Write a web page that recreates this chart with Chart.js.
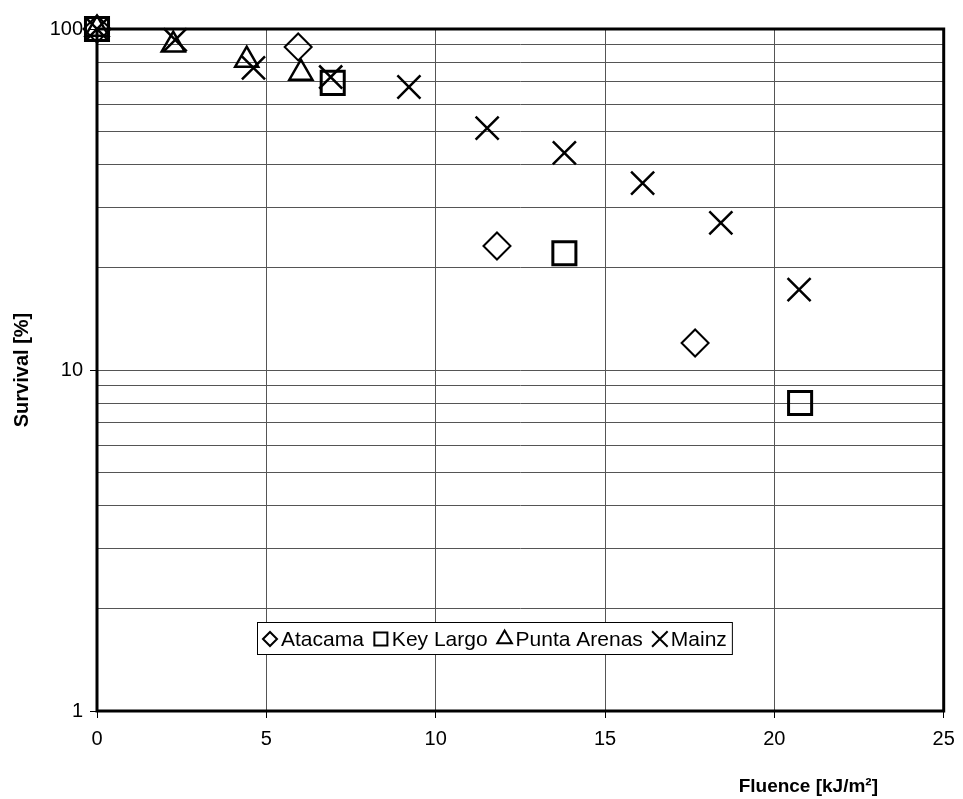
<!DOCTYPE html>
<html>
<head>
<meta charset="utf-8">
<script src="https://cdn.jsdelivr.net/npm/chart.js"></script>
<style>
  body { margin: 0; background: #fff; }
  #wrap { width: 963px; height: 799px; }
</style>
</head>
<body>
<div id="wrap"><canvas id="survivalChart" width="963" height="799"></canvas></div>
<script>
// Data (fluence in kJ/m², survival in %)
const ATACAMA_X = [0, 5.94, 11.81, 17.66];
const ATACAMA_Y = [100, 88.6, 23.1, 12.0];
const KEYLARGO_X = [0, 6.96, 13.8, 20.76];
const KEYLARGO_Y = [100, 69.5, 22.0, 8.0];
const PUNTA_X = [0, 2.25, 4.42, 6.02];
const PUNTA_Y = [100, 89.8, 81.1, 74.3];
const MAINZ_X = [0, 2.31, 4.62, 6.9, 9.21, 11.52, 13.8, 16.11, 18.42, 20.73];
const MAINZ_Y = [100, 92.9, 76.9, 72.3, 67.6, 51.2, 43.3, 35.3, 27.0, 17.2];

const Y_TICKS = [1, 2, 3, 4, 5, 6, 7, 8, 9, 10, 20, 30, 40, 50, 60, 70, 80, 90, 100];
const Y_LABELS = [1, 10, 100];
const X_TITLE = "Fluence [kJ/m²]";
const Y_TITLE = "Survival [%]";

const FONT = "'Liberation Sans', Arial, Helvetica, sans-serif";
Chart.defaults.font.family = FONT;
Chart.defaults.font.size = 20;
Chart.defaults.color = "#000";

function toPoints(xs, ys) {
  return xs.map((x, i) => ({ x: x, y: ys[i] }));
}

// marker look per series, also used for the legend
const SERIES = [
  { label: "Atacama", xs: ATACAMA_X, ys: ATACAMA_Y, style: "rectRot", radius: 13.5, width: 2, legendRadius: 7 },
  { label: "Key Largo", xs: KEYLARGO_X, ys: KEYLARGO_Y, style: "rect", radius: 16.3, width: 3, legendRadius: 9.2 },
  { label: "Punta Arenas", xs: PUNTA_X, ys: PUNTA_Y, style: "triangle", radius: 13.3, width: 2.5, legendRadius: 8.5 },
  { label: "Mainz", xs: MAINZ_X, ys: MAINZ_Y, style: "crossRot", radius: 16.3, width: 2.5, legendRadius: 11 },
];

// thick frame round the plot area
const framePlugin = {
  id: "frame",
  beforeDatasetsDraw(chart) {
    const { ctx, chartArea: a } = chart;
    ctx.save();
    ctx.strokeStyle = "#000";
    ctx.lineWidth = 3;
    ctx.strokeRect(a.left, a.top, a.right - a.left, a.bottom - a.top);
    ctx.restore();
  },
};

function drawMarker(ctx, style, r, lw, x, y) {
  const opts = { pointStyle: style, radius: r, borderWidth: lw, rotation: 0 };
  if (Chart.helpers && Chart.helpers.drawPoint) {
    ctx.strokeStyle = "#000";
    ctx.fillStyle = "rgba(0,0,0,0)";
    ctx.lineWidth = lw;
    Chart.helpers.drawPoint(ctx, opts, x, y);
    return;
  }
  ctx.beginPath();
  ctx.lineWidth = lw;
  ctx.strokeStyle = "#000";
  if (style === "rectRot") {
    ctx.moveTo(x - r, y); ctx.lineTo(x, y - r); ctx.lineTo(x + r, y); ctx.lineTo(x, y + r); ctx.closePath();
  } else if (style === "rect") {
    const s = r * Math.SQRT1_2;
    ctx.rect(x - s, y - s, 2 * s, 2 * s);
  } else if (style === "triangle") {
    ctx.moveTo(x, y - r);
    ctx.lineTo(x + r * Math.sin(2 * Math.PI / 3), y + r / 2);
    ctx.lineTo(x - r * Math.sin(2 * Math.PI / 3), y + r / 2);
    ctx.closePath();
  } else {
    const o = r * Math.SQRT1_2;
    ctx.moveTo(x - o, y - o); ctx.lineTo(x + o, y + o);
    ctx.moveTo(x + o, y - o); ctx.lineTo(x - o, y + o);
  }
  ctx.stroke();
}

// boxed legend inside the plot, plus the x title at lower right
const legendPlugin = {
  id: "boxLegend",
  afterDraw(chart) {
    const ctx = chart.ctx;
    const boxLeft = 257, boxTop = 622, boxH = 32;
    const midY = boxTop + boxH / 2;
    ctx.save();
    ctx.font = "21px " + FONT;
    // measure first
    let x = boxLeft + 13;
    const items = [];
    SERIES.forEach((s) => {
      const w = ctx.measureText(s.label).width;
      items.push({ s, mx: x, tx: x + 11 });
      x = x + 11 + w + 17;
    });
    const boxRight = x - 17 + 5;
    ctx.fillStyle = "#fff";
    ctx.fillRect(boxLeft, boxTop, boxRight - boxLeft, boxH);
    ctx.strokeStyle = "#000";
    ctx.lineWidth = 1;
    ctx.strokeRect(boxLeft + 0.5, boxTop + 0.5, boxRight - boxLeft, boxH);
    items.forEach((it) => {
      drawMarker(ctx, it.s.style, it.s.legendRadius, 2, it.mx, midY + 1);
      ctx.fillStyle = "#000";
      ctx.textAlign = "left";
      ctx.textBaseline = "alphabetic";
      ctx.fillText(it.s.label, it.tx, midY + 8);
    });

    ctx.font = "bold 19px " + FONT;
    ctx.textAlign = "right";
    ctx.textBaseline = "alphabetic";
    ctx.fillStyle = "#000";
    ctx.fillText(X_TITLE, 878, 792);
    ctx.restore();
  },
};

const datasets = SERIES.map((s) => ({
  label: s.label,
  data: toPoints(s.xs, s.ys),
  showLine: false,
  pointStyle: s.style,
  pointRadius: s.radius,
  pointHoverRadius: s.radius,
  pointBorderWidth: s.width,
  pointBorderColor: "#000",
  pointBackgroundColor: "rgba(0,0,0,0)",
  clip: false,
}));

new Chart(document.getElementById("survivalChart"), {
  type: "scatter",
  data: { datasets },
  plugins: [framePlugin, legendPlugin],
  options: {
    responsive: false,
    animation: false,
    layout: { padding: { top: 29, right: 11, left: 0, bottom: 0 } },
    plugins: { legend: { display: false }, tooltip: { enabled: false } },
    scales: {
      x: {
        type: "linear",
        min: 0,
        max: 25,
        ticks: { stepSize: 5, padding: 9, font: { size: 20 } },
        grid: { color: "#555", lineWidth: 1, tickLength: 7, tickColor: "#000" },
        border: { display: false },
        afterFit(scale) {
          scale.height = 88;
          scale.paddingLeft = 0;
          scale.paddingRight = 0;
        },
      },
      y: {
        type: "logarithmic",
        min: 1,
        max: 100,
        afterBuildTicks(scale) {
          scale.ticks = Y_TICKS.map((v) => ({ value: v }));
        },
        ticks: {
          padding: 7,
          autoSkip: false,
          font: { size: 20 },
          callback: (v) => (Y_LABELS.includes(v) ? String(v) : ""),
        },
        grid: {
          color: "#555",
          lineWidth: 1,
          tickLength: 7,
          tickColor: (c) => (c.tick && Y_LABELS.includes(c.tick.value) ? "#000" : "rgba(0,0,0,0)"),
        },
        border: { display: false },
        title: {
          display: true,
          text: Y_TITLE,
          font: { size: 20, weight: "bold" },
          padding: { top: 10, bottom: 0 },
        },
        afterFit(scale) {
          scale.width = 97;
          scale.paddingTop = 0;
          scale.paddingBottom = 0;
        },
      },
    },
  },
});
</script>
</body>
</html>
